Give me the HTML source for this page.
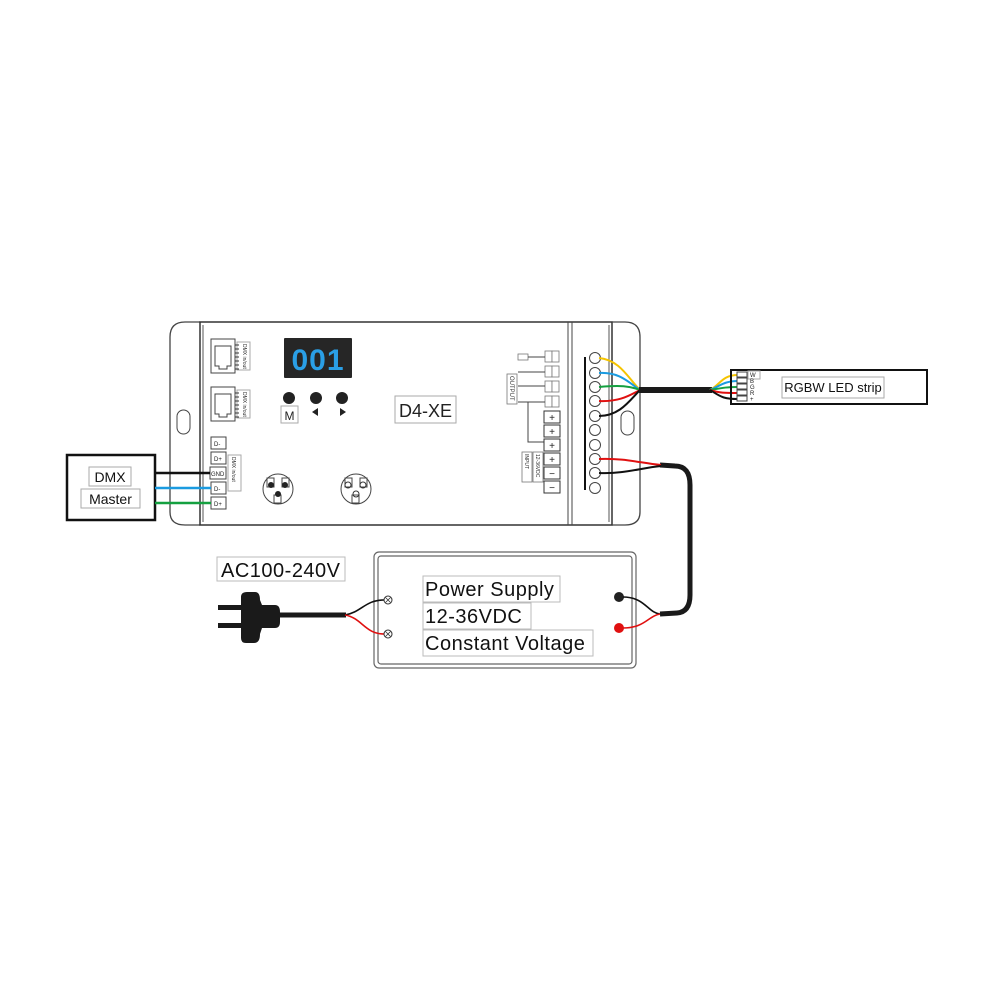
<!DOCTYPE html>
<html><head><meta charset="utf-8"><style>
html,body{margin:0;padding:0;background:#fff}
svg{display:block}
text{font-family:"Liberation Sans",sans-serif}
</style></head><body>
<svg width="1000" height="1000" viewBox="0 0 1000 1000" xmlns="http://www.w3.org/2000/svg">
<rect width="1000" height="1000" fill="#fff"/>
<!-- controller body -->
<path d="M200,322 L185,322 Q170,322 170,337 L170,512 Q170,525 185,525 L200,525" fill="none" stroke="#444" stroke-width="1.3"/>
<rect x="200" y="322" width="412" height="203" fill="none" stroke="#333" stroke-width="1.5"/>
<line x1="203" y1="325" x2="203" y2="522" stroke="#555"/>
<line x1="568" y1="322" x2="568" y2="525" stroke="#444"/>
<line x1="572" y1="322" x2="572" y2="525" stroke="#444"/>
<line x1="609" y1="325" x2="609" y2="522" stroke="#555"/>
<path d="M612,322 L625,322 Q640,322 640,337 L640,512 Q640,525 625,525 L612,525" fill="none" stroke="#444" stroke-width="1.3"/>
<rect x="177" y="410" width="13" height="24" rx="6.5" fill="none" stroke="#444"/>
<rect x="621" y="411" width="13" height="24" rx="6.5" fill="none" stroke="#444"/>
<!-- RJ45 -->
<g stroke="#444" fill="none">
<rect x="211" y="339" width="24" height="34"/><path d="M215,346 h16 v20 h-4 v3 h-8 v-3 h-4z"/>
<rect x="211" y="387" width="24" height="34"/><path d="M215,394 h16 v20 h-4 v3 h-8 v-3 h-4z"/>
<rect x="237" y="342" width="13" height="28" stroke="#aaa"/>
<rect x="237" y="390" width="13" height="28" stroke="#aaa"/>
</g>
<g stroke="#333" stroke-width="1">
<path d="M235,345h4M235,349h4M235,353h4M235,357h4M235,361h4M235,365h4M235,369h4"/>
<path d="M235,393h4M235,397h4M235,401h4M235,405h4M235,409h4M235,413h4M235,417h4"/>
</g>
<text x="243" y="344" font-size="5" transform="rotate(90 243 344)" fill="#333">DMX in/out</text>
<text x="243" y="392" font-size="5" transform="rotate(90 243 392)" fill="#333">DMX in/out</text>
<!-- display -->
<rect x="284" y="338" width="68" height="40" fill="#262626" rx="1"/>
<text x="318" y="370" font-size="30" font-family="Liberation Mono" fill="#2a9fe6" text-anchor="middle" font-weight="bold" letter-spacing="1">001</text>
<circle cx="289" cy="398" r="6" fill="#222"/><circle cx="316" cy="398" r="6" fill="#222"/><circle cx="342" cy="398" r="6" fill="#222"/>
<rect x="281" y="406" width="17" height="17" fill="#fff" stroke="#aaa"/><text x="289.5" y="420" font-size="12" text-anchor="middle" fill="#222">M</text>
<path d="M318,408 L312,412 L318,416z" fill="#222"/><path d="M340,408 L346,412 L340,416z" fill="#222"/>
<rect x="395" y="396" width="61" height="27" fill="#fff" stroke="#aaa"/>
<text x="425.5" y="417" font-size="18" text-anchor="middle" fill="#222">D4-XE</text>
<!-- DMX terminal -->
<g stroke="#444" fill="#fff">
<rect x="211" y="437" width="15" height="12"/><rect x="211" y="452" width="15" height="12"/><rect x="210" y="467" width="16" height="12"/><rect x="211" y="482" width="15" height="12"/><rect x="211" y="497" width="15" height="12"/>
<rect x="228" y="455" width="13" height="36" stroke="#aaa"/>
</g>
<g font-size="6" fill="#222"><text x="214" y="446">D-</text><text x="214" y="461">D+</text><text x="211" y="476">GND</text><text x="214" y="491">D-</text><text x="214" y="506">D+</text></g>
<text x="232" y="457" font-size="5" transform="rotate(90 232 457)" fill="#333">DMX in/out</text>
<!-- XLR -->
<g stroke="#444" fill="none"><circle cx="278" cy="489" r="15"/><circle cx="356" cy="489" r="15"/>
<rect x="267" y="478" width="7" height="9"/><rect x="282" y="478" width="7" height="9"/><rect x="274" y="495" width="7" height="8"/>
<rect x="345" y="478" width="7" height="9"/><rect x="360" y="478" width="7" height="9"/><rect x="352" y="495" width="7" height="8"/></g>
<circle cx="271" cy="485" r="3" fill="#222"/><circle cx="285" cy="485" r="3" fill="#222"/><circle cx="278" cy="494" r="3" fill="#222"/>
<circle cx="348" cy="485" r="3" fill="none" stroke="#333"/><circle cx="363" cy="485" r="3" fill="none" stroke="#333"/><circle cx="356" cy="494" r="3" fill="none" stroke="#333"/>
<!-- output/input labels -->
<g stroke="#777" fill="#fff" stroke-width="0.8">
<rect x="518" y="354" width="10" height="6"/><rect x="507" y="374" width="10" height="30"/>
<rect x="545" y="351" width="7" height="11"/><rect x="552" y="351" width="7" height="11"/>
<rect x="545" y="366" width="7" height="11"/><rect x="552" y="366" width="7" height="11"/>
<rect x="545" y="381" width="7" height="11"/><rect x="552" y="381" width="7" height="11"/>
<rect x="545" y="396" width="7" height="11"/><rect x="552" y="396" width="7" height="11"/>
<rect x="522" y="452" width="10" height="30"/><rect x="533" y="452" width="10" height="30"/>
</g>
<g stroke="#444" stroke-width="1" fill="none"><path d="M528,357h17M518,372h27M518,386h27M518,402h27M528,402v40h16"/></g>
<g stroke="#333" fill="#fff">
<rect x="544" y="411" width="16" height="12"/><rect x="544" y="425" width="16" height="12"/><rect x="544" y="439" width="16" height="12"/><rect x="544" y="453" width="16" height="12"/><rect x="544" y="467" width="16" height="12"/><rect x="544" y="481" width="16" height="12"/>
</g>
<g font-size="10" fill="#222" text-anchor="middle"><text x="552" y="421">+</text><text x="552" y="435">+</text><text x="552" y="449">+</text><text x="552" y="463">+</text><text x="552" y="477">−</text><text x="552" y="491">−</text></g>
<text x="510" y="376" font-size="6" transform="rotate(90 510 376)" fill="#333">OUTPUT</text>
<text x="525" y="454" font-size="5" transform="rotate(90 525 454)" fill="#333">INPUT</text>
<text x="536" y="454" font-size="5" transform="rotate(90 536 454)" fill="#333">12-36VDC</text>
<!-- terminal column -->
<line x1="585" y1="357" x2="585" y2="490" stroke="#111" stroke-width="2"/>
<g stroke="#444" fill="#fff">
<circle cx="595" cy="358" r="5.5"/><circle cx="595" cy="373" r="5.5"/><circle cx="595" cy="387" r="5.5"/><circle cx="595" cy="401" r="5.5"/><circle cx="595" cy="416" r="5.5"/><circle cx="595" cy="430" r="5.5"/><circle cx="595" cy="445" r="5.5"/><circle cx="595" cy="459" r="5.5"/><circle cx="595" cy="473" r="5.5"/><circle cx="595" cy="488" r="5.5"/>
</g>
<!-- output wires -->
<g fill="none" stroke-width="2">
<path d="M599,358 C620,360 628,378 640,390" stroke="#f5c400"/>
<path d="M599,373 C620,372 628,382 640,390" stroke="#1b9be0"/>
<path d="M599,387 C620,385 630,386 640,390" stroke="#14a040"/>
<path d="M599,401 C620,402 630,395 640,390" stroke="#e01010"/>
<path d="M599,416 C620,416 630,400 640,390" stroke="#111"/>
</g>
<line x1="639" y1="390" x2="712" y2="390" stroke="#1a1a1a" stroke-width="6"/>
<g fill="none" stroke-width="2">
<path d="M710,390 C720,385 722,375 738,375" stroke="#f5c400"/>
<path d="M710,390 C720,386 724,381 738,381" stroke="#1b9be0"/>
<path d="M710,390 C722,388 726,387 738,387" stroke="#14a040"/>
<path d="M710,390 C720,393 724,393 738,393" stroke="#e01010"/>
<path d="M710,390 C720,396 722,399 738,399" stroke="#111"/>
</g>
<!-- LED strip -->
<rect x="731" y="370" width="196" height="34" fill="none" stroke="#111" stroke-width="2"/>
<g stroke="#444" fill="#fff"><rect x="737" y="372" width="10" height="5"/><rect x="737" y="378" width="10" height="5"/><rect x="737" y="384" width="10" height="5"/><rect x="737" y="390" width="10" height="5"/><rect x="737" y="396" width="10" height="5"/></g>
<rect x="748" y="371" width="12" height="8" fill="#fff" stroke="#aaa"/>
<g font-size="6" fill="#222"><text x="750" y="377">W</text><text x="750" y="383">B</text><text x="750" y="389">G</text><text x="750" y="395">R</text><text x="750" y="401">+</text></g>
<rect x="782" y="377" width="102" height="21" fill="#fff" stroke="#aaa"/>
<text x="833" y="392" font-size="13" text-anchor="middle" fill="#111">RGBW LED strip</text>
<!-- DMX master -->
<rect x="67" y="455" width="88" height="65" fill="none" stroke="#111" stroke-width="2.5"/>
<rect x="89" y="467" width="42" height="19" fill="#fff" stroke="#aaa"/><text x="110" y="482" font-size="14" text-anchor="middle" fill="#111">DMX</text>
<rect x="81" y="489" width="59" height="19" fill="#fff" stroke="#aaa"/><text x="110.5" y="504" font-size="14" text-anchor="middle" fill="#111">Master</text>
<line x1="155" y1="473" x2="210" y2="473" stroke="#111" stroke-width="2.5"/>
<line x1="155" y1="488" x2="211" y2="488" stroke="#1b9be0" stroke-width="2.5"/>
<line x1="155" y1="503" x2="211" y2="503" stroke="#14a040" stroke-width="2.5"/>
<!-- power supply -->
<rect x="374" y="552" width="262" height="116" rx="5" fill="none" stroke="#666" stroke-width="1.2"/>
<rect x="378" y="556" width="254" height="108" rx="3" fill="none" stroke="#666" stroke-width="1.2"/>
<rect x="423" y="576" width="137" height="26" fill="#fff" stroke="#bbb"/><text x="425" y="596" font-size="20" fill="#111" letter-spacing="0.5">Power Supply</text>
<rect x="423" y="603" width="108" height="26" fill="#fff" stroke="#bbb"/><text x="425" y="623" font-size="20" fill="#111" letter-spacing="0.5">12-36VDC</text>
<rect x="423" y="630" width="170" height="26" fill="#fff" stroke="#bbb"/><text x="425" y="650" font-size="20" fill="#111" letter-spacing="0.5">Constant Voltage</text>
<rect x="217" y="557" width="128" height="24" fill="#fff" stroke="#bbb"/><text x="221" y="577" font-size="20" fill="#111" letter-spacing="0.5">AC100-240V</text>
<!-- plug -->
<rect x="218" y="605" width="24" height="5" fill="#1a1a1a"/><rect x="218" y="623" width="24" height="5" fill="#1a1a1a"/>
<path d="M241,597 Q241,592 247,592 L255,592 Q260,592 260,600 L262,605 L275,605 Q280,605 280,612 L280,622 Q280,628 275,628 L262,628 L260,634 Q260,643 254,643 L246,643 Q241,643 241,638 Z" fill="#1a1a1a"/>
<line x1="278" y1="615" x2="346" y2="615" stroke="#1a1a1a" stroke-width="5"/>
<path d="M345,615 C362,612 365,600 384,600" fill="none" stroke="#111" stroke-width="1.6"/>
<path d="M345,615 C362,618 365,634 384,634" fill="none" stroke="#e01010" stroke-width="1.6"/>
<g stroke="#333" fill="#fff"><circle cx="388" cy="600" r="4"/><circle cx="388" cy="634" r="4"/></g>
<g stroke="#333" stroke-width="0.8"><path d="M385.5,597.5l5,5M390.5,597.5l-5,5M385.5,631.5l5,5M390.5,631.5l-5,5"/></g>
<circle cx="619" cy="597" r="5" fill="#222"/><circle cx="619" cy="628" r="5" fill="#e01010"/>
<path d="M623,597 C645,597 648,613 660,614" fill="none" stroke="#111" stroke-width="1.6"/>
<path d="M623,628 C645,628 648,616 660,614" fill="none" stroke="#e01010" stroke-width="1.6"/>
<!-- input cable -->
<path d="M660,614 L677,613 Q690,612 690,595 L690,485 Q690,466 675,466 L660,465" fill="none" stroke="#1a1a1a" stroke-width="5"/>
<path d="M599,459 C625,458 640,463 661,465" fill="none" stroke="#e01010" stroke-width="2"/>
<path d="M599,473 C625,474 640,468 661,466" fill="none" stroke="#111" stroke-width="2"/>
</svg>
</body></html>
